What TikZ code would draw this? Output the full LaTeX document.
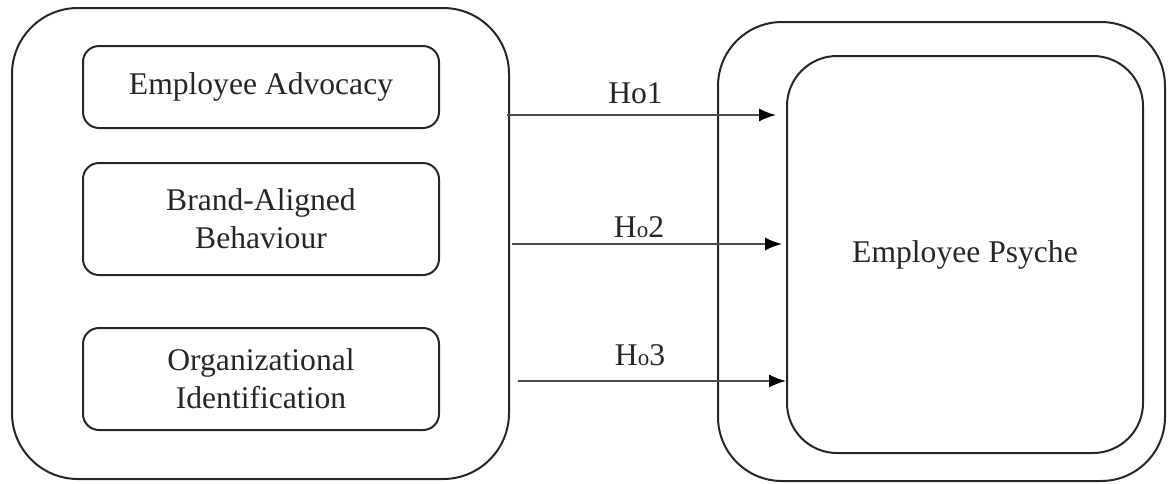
\documentclass[tikz,border=0pt]{standalone}
\usepackage{fontspec}
\setmainfont{Liberation Serif}
\usetikzlibrary{arrows.meta, positioning}

\tikzset{
  outerbox/.style={draw=black!85, line width=1pt, rounded corners=33pt},
  varbox/.style={draw=black!85, line width=1pt, rounded corners=8pt, minimum width=178pt,
    align=center, font=\fontsize{15.8}{19}\selectfont, text=black!85},
  link/.style={draw=black!70, line width=0.8pt, -{Latex[length=8.5pt,width=6.5pt,color=black]}},
  hyplabel/.style={font=\fontsize{15.8}{18}\selectfont, text=black!85, inner sep=1pt},
}
\newcommand{\hnull}[1]{H\raisebox{-0.4pt}{\fontsize{11.5}{11.5}\selectfont o}#1}

\begin{document}
\begin{tikzpicture}[x=0.5pt,y=-0.5pt]
\useasboundingbox (0,0) rectangle (1172,483);
%left block
\node[outerbox, minimum width=248.5pt, minimum height=235.5pt] (drivers) at (260.5,243.5) {};
\node[varbox, minimum height=41pt] (advocacy) at (261,87) {Employee Advocacy};
\node[varbox, minimum height=56pt] (behaviour) at (261,219) {Brand-Aligned\\Behaviour};
\node[varbox, minimum height=51pt] (identification) at (261,379) {Organizational\\Identification};
%right block
\node[outerbox, rounded corners=32pt, minimum width=223.5pt, minimum height=229.5pt] (outcome) at (941.5,251.5) {};
\node[varbox, rounded corners=25pt, minimum height=198.5pt] (psyche) at (965,254.5) {Employee Psyche};
%hypotheses
\coordinate (h1) at (507,115);
\coordinate (h2) at (512,244);
\coordinate (h3) at (518,381);
\draw[link] (h1) -- ([xshift=-5pt]psyche.west |- h1) node[hyplabel, midway, xshift=-3pt, above=4pt] {Ho1};
\draw[link] (h2) -- ([xshift=-2pt]psyche.west |- h2) node[hyplabel, midway, xshift=-4pt, above=1.5pt] {\hnull{2}};
\draw[link] (h3) -- (psyche.west |- h3) node[hyplabel, midway, xshift=-6pt, above=6pt] {\hnull{3}};
\end{tikzpicture}
\end{document}
